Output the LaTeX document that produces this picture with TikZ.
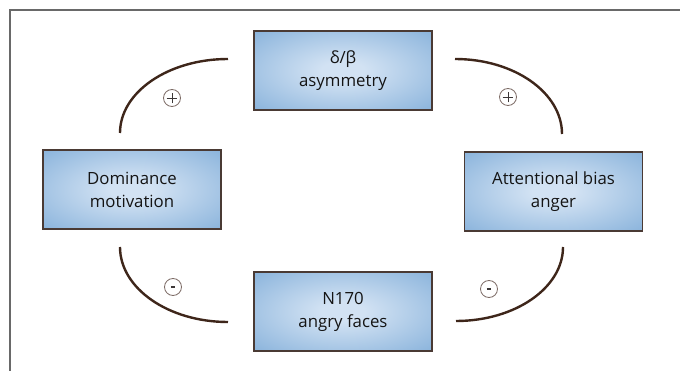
\documentclass[tikz,border=0pt]{standalone}
\usepackage{fontspec}
\setmainfont{Open Sans}
\definecolor{glowin}{RGB}{210,226,243}
\definecolor{glowout}{RGB}{142,182,221}
\definecolor{boxedge}{RGB}{74,58,52}
\definecolor{loopline}{RGB}{62,38,26}
\definecolor{signring}{RGB}{125,108,102}
\definecolor{signmark}{RGB}{60,55,55}
\definecolor{framegray}{RGB}{105,105,105}
\pgfdeclareradialshading{boxglow}{\pgfpoint{0bp}{0bp}}{%
  color(0bp)=(glowin);
  color(6bp)=(glowin);
  color(34bp)=(glowout);
  color(50bp)=(glowout)}
\begin{document}
\begin{tikzpicture}[x=1pt,y=-1pt,
  factor/.style={rectangle, draw=boxedge, line width=1.4pt, shading=boxglow,
    minimum width=178pt, minimum height=79pt, align=center,
    font=\fontsize{16.8}{23}\selectfont, text=black!92},
  loop/.style={draw=loopline, line width=2.4pt},
  sign/.style={circle, draw=signring, line width=0.8pt, minimum size=17pt, inner sep=0pt}]
\useasboundingbox (0,0) rectangle (680,371);
\fill[white] (0,0) rectangle (680,371);
% outer frame, open to the right and bottom
\draw[framegray, line width=2pt] (681,10) -- (10,10) -- (10,372);

% the four factors
\node[factor] (asym) at (343,70.5) {δ/β\\asymmetry};
\node[factor] (dom)  at (132,189.5) {Dominance\\motivation};
\node[factor] (att)  at (553.5,191.5) {Attentional bias\\anger};
\node[factor] (n170) at (343,311.5) {N170\\angry faces};

% ends of the loop arcs
\coordinate (tlA) at (120,133); \coordinate (tlB) at (228,59);
\coordinate (trA) at (455,59);  \coordinate (trB) at (562,134);
\coordinate (brA) at (563,247); \coordinate (brB) at (456,321);
\coordinate (blA) at (120,247); \coordinate (blB) at (228,322);

\draw[loop] (tlA) .. controls (120,92.1) and (168.4,59) .. (tlB);
\draw[loop] (trA) .. controls (514.1,59) and (562,92.6) .. (trB);
\draw[loop] (brA) .. controls (563,287.9) and (515.1,321) .. (brB);
\draw[loop] (blA) .. controls (120,288.4) and (168.4,322) .. (blB);

% signs of the links
\node[sign] (pTL) at (172,98) {};
\node[sign] (pTR) at (508,97) {};
\node[sign] (mBR) at (489,289) {};
\node[sign] (mBL) at (173,287) {};
\foreach \s in {pTL,pTR}{
  \draw[signmark, line width=0.9pt] ([xshift=-5.3pt]\s.center) -- ([xshift=5.3pt]\s.center);
  \draw[signmark, line width=0.9pt] ([yshift=-5.3pt]\s.center) -- ([yshift=5.3pt]\s.center);
}
\foreach \s in {mBR,mBL}{
  \draw[signmark, line width=1.8pt] ([xshift=-2.2pt]\s.center) -- ([xshift=2.2pt]\s.center);
}
\end{tikzpicture}
\end{document}
